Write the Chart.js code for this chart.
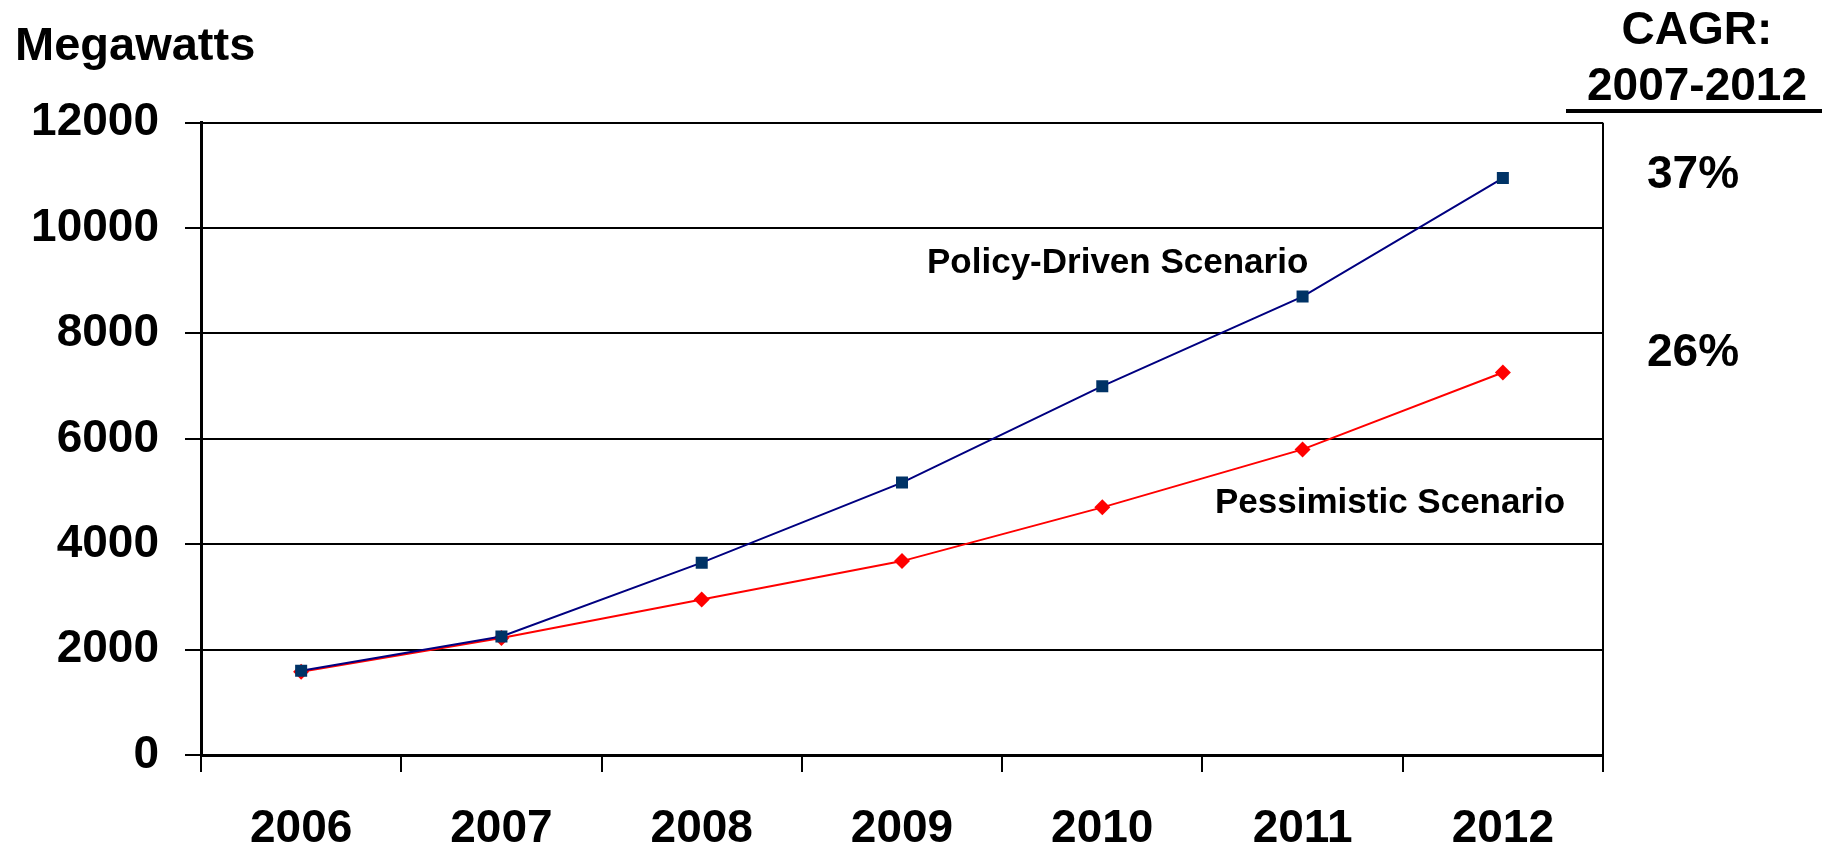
<!DOCTYPE html>
<html>
<head>
<meta charset="utf-8">
<script src="https://cdn.jsdelivr.net/npm/chart.js@4"></script>
<style>
  html, body { margin: 0; padding: 0; background: #fff; }
  #wrap { width: 1831px; height: 849px; }
</style>
</head>
<body>
<div id="wrap"><canvas id="myChart" width="1831" height="849"></canvas></div>
<script>
// data
const years = ['2006', '2007', '2008', '2009', '2010', '2011', '2012'];
const policyDriven = [1600, 2250, 3650, 5170, 7000, 8700, 10950];
const pessimistic = [1580, 2220, 2950, 3680, 4700, 5800, 7260];
const yTicks = [0, 2000, 4000, 6000, 8000, 10000, 12000];
const cagrPolicy = '37%';
const cagrPessimistic = '26%';

const FONT = '"Liberation Sans", Arial, sans-serif';

// extra texts drawn on the canvas
const textPlugin = {
    id: 'texts',
    afterDraw(chart) {
        const ctx = chart.ctx;
        const area = chart.chartArea;
        ctx.save();

        // right border of the plot
        ctx.strokeStyle = '#000';
        ctx.lineWidth = 2;
        ctx.beginPath();
        ctx.moveTo(area.right, area.top);
        ctx.lineTo(area.right, area.bottom);
        ctx.stroke();

        ctx.fillStyle = '#000';
        ctx.textBaseline = 'alphabetic';

        ctx.font = 'bold 47px ' + FONT;
        ctx.textAlign = 'left';
        ctx.fillText('Megawatts', 15, 60);

        ctx.font = 'bold 46px ' + FONT;
        ctx.textAlign = 'center';
        ctx.fillText('CAGR:', 1697, 44);
        ctx.fillText('2007-2012', 1697, 100);
        ctx.fillText(cagrPolicy, 1693, 188);
        ctx.fillText(cagrPessimistic, 1693, 366);

        ctx.lineWidth = 4;
        ctx.beginPath();
        ctx.moveTo(1566, 111);
        ctx.lineTo(1822, 111);
        ctx.stroke();

        ctx.font = 'bold 35px ' + FONT;
        ctx.textAlign = 'left';
        ctx.fillText('Policy-Driven Scenario', 927, 273);
        ctx.fillText('Pessimistic Scenario', 1215, 513);

        ctx.restore();
    }
};

const data = {
    labels: years,
    datasets: [
        {
            label: 'Policy-Driven Scenario',
            data: policyDriven,
            borderColor: '#000080',
            borderWidth: 2,
            pointStyle: 'rect',
            pointRadius: 8.5,
            pointBackgroundColor: '#003366',
            pointBorderColor: '#003366',
            pointBorderWidth: 0,
            tension: 0,
        },
        {
            label: 'Pessimistic Scenario',
            data: pessimistic,
            borderColor: '#ff0000',
            borderWidth: 2,
            pointStyle: 'rectRot',
            pointRadius: 8,
            pointBackgroundColor: '#ff0000',
            pointBorderColor: '#ff0000',
            pointBorderWidth: 0,
            tension: 0,
        },
    ],
};

const config = {
    type: 'line',
    data,
    options: {
        responsive: false,
        animation: false,
        layout: {
            padding: { left: 0, top: 122.7, right: 228, bottom: 0 }
        },
        scales: {
            x: {
                offset: true,
                afterFit(scale) { scale.height = 94; },
                grid: {
                    offset: true,
                    drawOnChartArea: false,
                    drawTicks: true,
                    tickLength: 17,
                    color: '#000',
                    lineWidth: 2,
                },
                border: { color: '#000', width: 3 },
                ticks: {
                    color: '#000',
                    padding: 30,
                    font: { family: FONT, size: 46, weight: 'bold' },
                },
            },
            y: {
                min: 0,
                max: 12000,
                afterFit(scale) { scale.width = 201; },
                afterBuildTicks(scale) {
                    scale.ticks = yTicks.map(v => ({ value: v }));
                },
                grid: {
                    color: '#000',
                    lineWidth: 2,
                    tickLength: 16,
                },
                border: { color: '#000', width: 3 },
                ticks: {
                    color: '#000',
                    padding: 26,
                    font: { family: FONT, size: 46, weight: 'bold' },
                    callback(value) { return String(value); },
                },
            },
        },
        plugins: {
            legend: { display: false },
            tooltip: { enabled: false },
        },
    },
    plugins: [textPlugin],
};

const myChart = new Chart(
    document.getElementById('myChart'),
    config
);
</script>
</body>
</html>
